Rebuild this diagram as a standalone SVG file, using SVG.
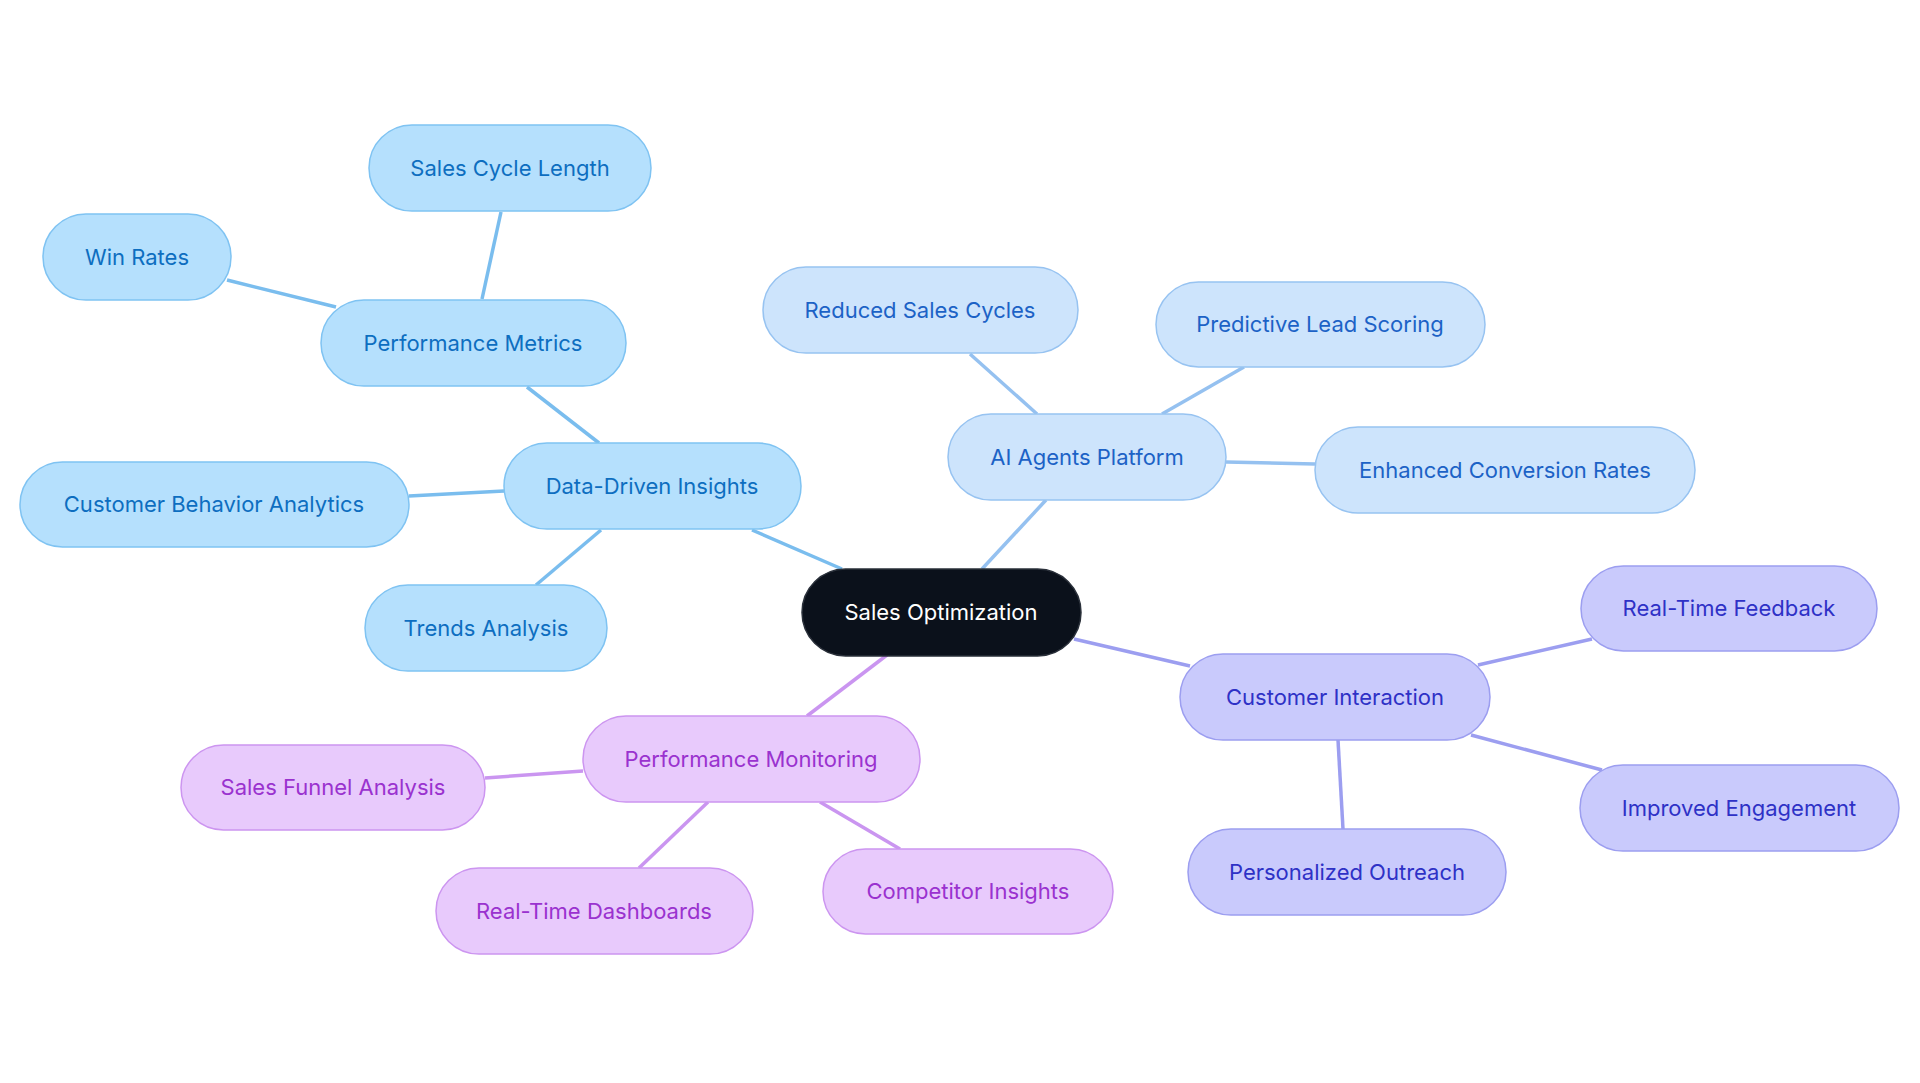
<svg xmlns="http://www.w3.org/2000/svg" width="1920" height="1083" viewBox="0 0 1920 1083">
<style>
text{font-family:Inter,"Noto Sans",sans-serif;font-size:22px;text-anchor:middle;dominant-baseline:central}
.b rect{fill:#b5e0fd;stroke:#7fc3f2;stroke-width:1.5}.b text{fill:#0d6ec0}
.l rect{fill:#cde4fc;stroke:#97c3f1;stroke-width:1.5}.l text{fill:#1c62c6}
.p rect{fill:#c9cafc;stroke:#9c9ef0;stroke-width:1.5}.p text{fill:#2e31c6}
.k rect{fill:#e8cafc;stroke:#cc95f0;stroke-width:1.5}.k text{fill:#9a32cf}
.c rect{fill:#0b111b;stroke:#2a303a;stroke-width:1.5}.c text{fill:#ffffff}
#edges line{stroke-width:3.5;fill:none}
</style>
<rect width="1920" height="1083" fill="#fff"/>
<g id="edges">
<g stroke="#7abdee">
<line x1="842" y1="569" x2="752" y2="530"/><line x1="599" y1="443" x2="527" y2="387"/><line x1="482" y1="299" x2="501" y2="212"/><line x1="336" y1="307" x2="227" y2="280"/><line x1="504" y1="491" x2="409" y2="496"/><line x1="601" y1="530" x2="536" y2="585"/>
</g>
<g stroke="#95c1f0">
<line x1="982" y1="569" x2="1046" y2="500"/><line x1="1037" y1="414" x2="970" y2="354"/><line x1="1162" y1="414" x2="1244" y2="367"/><line x1="1226" y1="462" x2="1315" y2="464"/>
</g>
<g stroke="#9c9ef0">
<line x1="1074" y1="639" x2="1190" y2="666"/><line x1="1478" y1="665" x2="1592" y2="639"/><line x1="1471" y1="735" x2="1602" y2="770"/><line x1="1338" y1="740" x2="1343" y2="829"/>
</g>
<g stroke="#ca95f0">
<line x1="887" y1="655" x2="807" y2="716"/><line x1="583" y1="771" x2="485" y2="778"/><line x1="708" y1="802" x2="639" y2="868"/><line x1="820" y1="802" x2="900" y2="849"/>
</g>
</g>
<g id="center" class="c"><rect x="802" y="569" width="279" height="87" rx="43.5"/><text x="941" y="612">Sales Optimization</text></g>
<g id="ddi" class="b"><rect x="504" y="443" width="297" height="86" rx="43"/><text x="652" y="486">Data-Driven Insights</text></g>
<g id="pm" class="b"><rect x="321" y="300" width="305" height="86" rx="43"/><text x="473" y="343">Performance Metrics</text></g>
<g id="scl" class="b"><rect x="369" y="125" width="282" height="86" rx="43"/><text x="510" y="168">Sales Cycle Length</text></g>
<g id="win" class="b"><rect x="43" y="214" width="188" height="86" rx="43"/><text x="137" y="257">Win Rates</text></g>
<g id="cba" class="b"><rect x="20" y="462" width="389" height="85" rx="42.5"/><text x="214" y="504">Customer Behavior Analytics</text></g>
<g id="trends" class="b"><rect x="365" y="585" width="242" height="86" rx="43"/><text x="486" y="628">Trends Analysis</text></g>
<g id="ai" class="l"><rect x="948" y="414" width="278" height="86" rx="43"/><text x="1087" y="457">AI Agents Platform</text></g>
<g id="rsc" class="l"><rect x="763" y="267" width="315" height="86" rx="43"/><text x="920" y="310">Reduced Sales Cycles</text></g>
<g id="pls" class="l"><rect x="1156" y="282" width="329" height="85" rx="42.5"/><text x="1320" y="324">Predictive Lead Scoring</text></g>
<g id="ecr" class="l"><rect x="1315" y="427" width="380" height="86" rx="43"/><text x="1505" y="470">Enhanced Conversion Rates</text></g>
<g id="ci" class="p"><rect x="1180" y="654" width="310" height="86" rx="43"/><text x="1335" y="697">Customer Interaction</text></g>
<g id="rtf" class="p"><rect x="1581" y="566" width="296" height="85" rx="42.5"/><text x="1729" y="608">Real-Time Feedback</text></g>
<g id="ie" class="p"><rect x="1580" y="765" width="319" height="86" rx="43"/><text x="1739" y="808">Improved Engagement</text></g>
<g id="po" class="p"><rect x="1188" y="829" width="318" height="86" rx="43"/><text x="1347" y="872">Personalized Outreach</text></g>
<g id="pmon" class="k"><rect x="583" y="716" width="337" height="86" rx="43"/><text x="751" y="759">Performance Monitoring</text></g>
<g id="sfa" class="k"><rect x="181" y="745" width="304" height="85" rx="42.5"/><text x="333" y="787">Sales Funnel Analysis</text></g>
<g id="rtd" class="k"><rect x="436" y="868" width="317" height="86" rx="43"/><text x="594" y="911">Real-Time Dashboards</text></g>
<g id="comp" class="k"><rect x="823" y="849" width="290" height="85" rx="42.5"/><text x="968" y="891">Competitor Insights</text></g>
</svg>
